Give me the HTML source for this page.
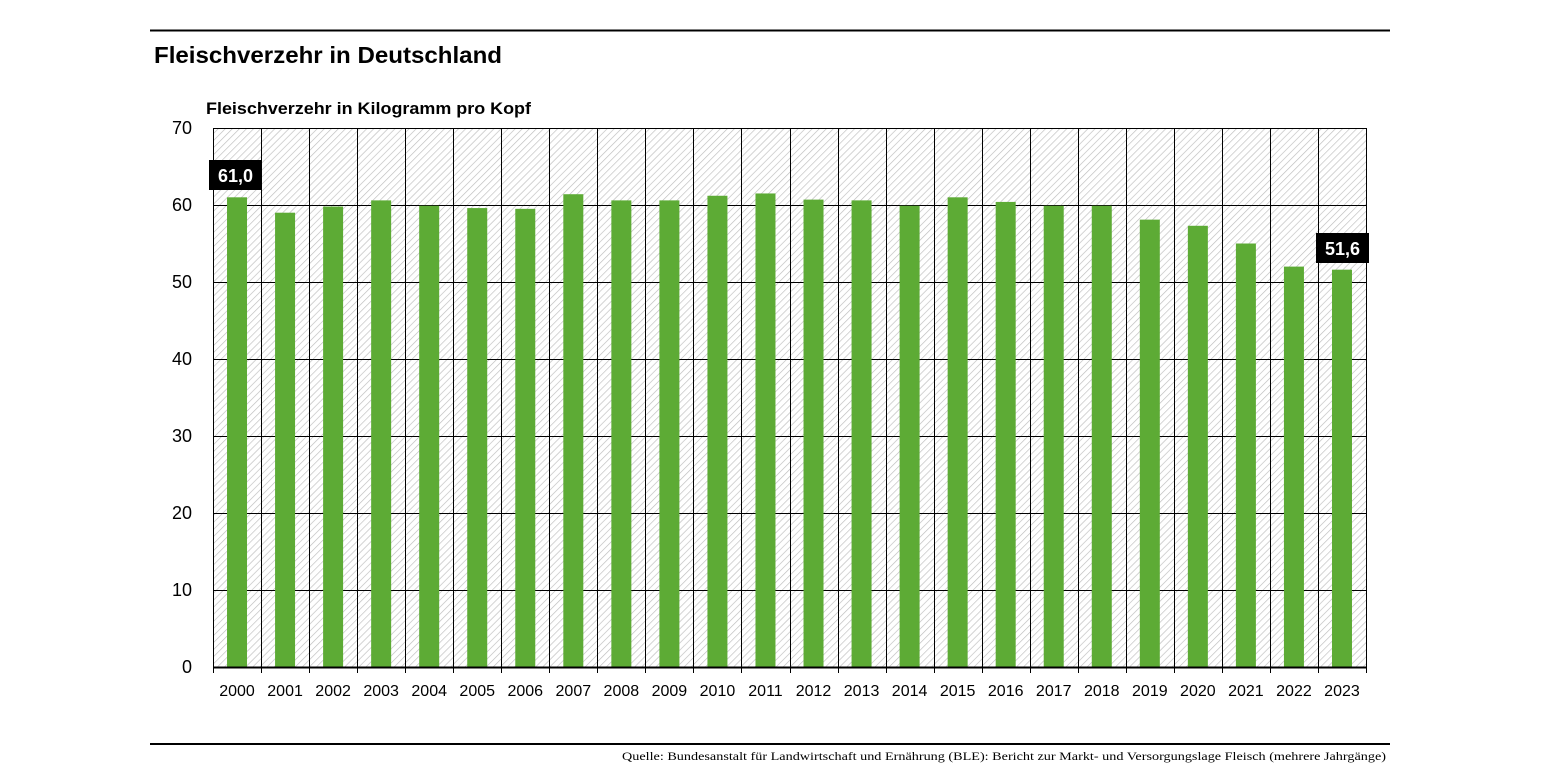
<!DOCTYPE html>
<html><head><meta charset="utf-8"><style>
body{margin:0;background:#fff;width:1545px;height:775px;overflow:hidden}
svg{display:block}
text{font-family:"Liberation Sans",sans-serif}
</style></head><body>
<svg width="1545" height="775" viewBox="0 0 1545 775">
<defs>
<pattern id="h" patternUnits="userSpaceOnUse" width="5" height="5" patternTransform="rotate(45)">
<rect width="5" height="5" fill="#fff"/><line x1="0" y1="0" x2="0" y2="5" stroke="#bdbdbd" stroke-width="1.3"/>
</pattern>
</defs>
<line x1="150" y1="30.5" x2="1390" y2="30.5" stroke="#000" stroke-width="2"/>
<text x="154" y="63" font-size="23" font-weight="bold" textLength="348" lengthAdjust="spacingAndGlyphs">Fleischverzehr in Deutschland</text>
<text x="206" y="114" font-size="17" font-weight="bold" textLength="325" lengthAdjust="spacingAndGlyphs">Fleischverzehr in Kilogramm pro Kopf</text>
<rect x="213" y="128" width="1153" height="539" fill="url(#h)"/>
<g id="grid" stroke="#000" stroke-width="1"></g>
<g id="bars"></g>
<g id="axis" stroke="#000"></g>
<g id="lab" font-size="18" text-anchor="end"></g>
<g id="yr" font-size="16" text-anchor="middle"></g>
<rect x="209" y="160" width="53" height="30" fill="#000"/>
<text x="235.5" y="182" font-size="18" font-weight="bold" fill="#fff" text-anchor="middle">61,0</text>
<rect x="1316" y="233" width="53" height="30" fill="#000"/>
<text x="1342.5" y="255" font-size="18" font-weight="bold" fill="#fff" text-anchor="middle">51,6</text>
<line x1="150" y1="744" x2="1390" y2="744" stroke="#000" stroke-width="2"/>
<text x="1386" y="760" font-size="11.5" text-anchor="end" style="font-family:'Liberation Serif',serif" textLength="764" lengthAdjust="spacingAndGlyphs">Quelle: Bundesanstalt für Landwirtschaft und Ernährung (BLE): Bericht zur Markt- und Versorgungslage Fleisch (mehrere Jahrgänge)</text>
</svg>
<script>
const ns="http://www.w3.org/2000/svg";
function el(p,t,a,txt){const e=document.createElementNS(ns,t);for(const k in a)e.setAttribute(k,a[k]);if(txt!=null)e.textContent=txt;document.getElementById(p).appendChild(e);}
const vals=[61.0,59.0,59.8,60.6,59.9,59.6,59.5,61.4,60.6,60.6,61.2,61.5,60.7,60.6,59.9,61.0,60.4,59.9,59.9,58.1,57.3,55.0,52.0,51.6];
const x0=213,w=1153/24,y0=667,s=7.7;
vals.forEach((v,i)=>{const cx=x0+w*(i+0.5);el("bars","rect",{x:cx-10,y:y0-v*s,width:20,height:v*s,fill:"#5dab35"});
el("yr","text",{x:cx,y:696},String(2000+i));});
for(let k=0;k<=7;k++){const y=y0-k*77;el("grid","line",{x1:x0,x2:1366,y1:y+0.5,y2:y+0.5});el("lab","text",{x:192,y:y+6},String(k*10));}
for(let i=0;i<=24;i++){const x=Math.round(x0+w*i)+0.5;el("grid","line",{x1:x,x2:x,y1:128,y2:667});el("axis","line",{x1:x,x2:x,y1:667,y2:673});}
el("axis","line",{x1:x0,x2:1367,y1:667.5,y2:667.5,"stroke-width":2});
</script>
</body></html>
